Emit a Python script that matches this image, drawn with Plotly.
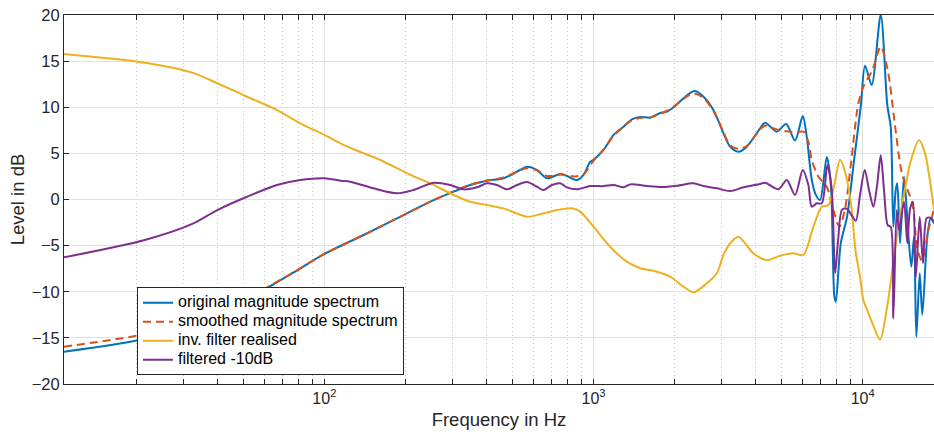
import plotly.graph_objects as go

# ---------------- data (frequency in Hz, level in dB) ----------------
f_orig = [10.77, 21.53, 32.3, 43.07, 56.2, 76.9, 100, 139.9, 186.2, 247.6, 302.1, 348.4, 402, 463.2,
          519.6, 565.7, 616.3, 671.3, 752.3, 796.6, 867.9, 918.3, 972.3, 1000, 1089, 1187, 1293, 1389,
          1491, 1624, 1769, 1873, 2012, 2160, 2370, 2562, 2790, 3039, 3218, 3454, 3712, 4159, 4341,
          4797, 5194, 5610, 5990, 6198, 6471, 6700, 6948, 7358, 7614, 7850, 7950, 8292, 8752, 9292,
          9838, 10207, 10800, 11673, 12350, 12714, 13001, 13270, 13452, 13766, 14247, 14741, 15164,
          15518, 15827, 16293, 16658, 17387, 17899, 18410]
l_orig = [-16.5, -15.1, -13.4, -11.8, -10.2, -7.9, -5.9, -3.85, -2.04, -0.24, 0.85, 1.57, 2.04, 2.30,
          3.02, 3.56, 3.20, 2.30, 2.76, 2.55, 2.11, 2.66, 4.10, 4.3, 5.37, 7.0, 7.89, 8.69,
          8.95, 8.87, 9.38, 9.52, 10.14, 10.97, 11.75, 11.14, 9.70, 7.2, 5.73, 5.18, 5.73, 7.72, 8.33,
          7.35, 8.18, 6.4, 9.05, 6.81, 2.11, 0.5, -0.05, 4.6, 1.75, -10.5, -11.1, -4.75, -1.86, 4.28,
          10.06, 14.5, 12.4, 20.0, 10.2, 7.89, -2.95, 1.03, 1.75, -4.75, 2.47, -3.3, -7.3,
          -4.0, -14.9, -8.0, -12.5, -4.0, -2.0, -2.6]

f_smooth = [10.77, 21.53, 32.3, 43.07, 56.2, 76.9, 100, 139.9, 186.2, 247.6, 302.1, 348.4, 402, 463.2,
            519.6, 565.7, 616.3, 671.3, 752.3, 855, 918.3, 1000, 1089, 1187, 1293, 1389, 1534, 1648,
            1769, 1873, 2012, 2160, 2352, 2562, 2790, 3039, 3218, 3454, 3712, 4159, 4341, 4797, 5194,
            5690, 6021, 6284, 6471, 6848, 7358, 7785, 8193, 8602, 9056, 9639, 10120, 10866, 11673,
            12400, 13166, 14000, 15300, 16000, 16600, 17650, 18410]
l_smooth = [-15.96, -14.6, -13.2, -11.7, -10.1, -7.9, -5.9, -3.85, -2.04, -0.24, 0.9, 1.6, 2.05, 2.4,
            3.0, 3.4, 3.15, 2.55, 2.7, 2.5, 2.75, 4.2, 5.4, 6.9, 7.9, 8.6, 8.9, 8.95,
            9.3, 9.6, 10.2, 10.9, 11.5, 11.0, 9.6, 7.3, 5.9, 5.5, 5.8, 7.6, 8.0, 7.6, 7.4,
            7.3, 7.35, 6.27, 4.28, 2.47, 1.39, -1.14, -2.95, -1.0, 4.0, 10.4, 12.4, 14.0, 16.6,
            14.0, 8.2, 2.8, -0.5, -5.5, -6.6, -3.0, -1.1]

f_inv = [10.78, 21.53, 32.3, 40, 51.6, 66.7, 81.4, 100, 114.7, 130.3, 161.4, 202.9, 247.6, 302.1,
         348.4, 402, 463.2, 565.7, 652.1, 731.4, 831.5, 892.6, 1000, 1153, 1330, 1491, 1671, 1926,
         2160, 2352, 2637, 2872, 3039, 3218, 3454, 3928, 4405, 4934, 5528, 6021, 6560, 7049, 7459,
         7832, 8244, 8602, 9056, 9400, 9779, 10060, 10400, 10900, 11603, 12350, 13384, 13766,
         14579, 14997, 16195, 17050, 17792, 18410]
l_inv = [15.77, 14.83, 13.75, 12.6, 11.14, 9.70, 8.26, 7.0, 6.09, 5.37, 4.28, 2.84, 1.75, 0.49,
         -0.24, -0.60, -0.96, -1.86, -1.50, -1.14, -0.96, -1.32, -2.95, -5.12, -6.74, -7.46, -7.72, -8.37,
         -9.45, -10.06, -9.08, -8.0, -6.0, -4.75, -4.03, -5.84, -6.56, -6.1, -5.84, -6.0, -2.95, -0.78, -0.6,
         1.5, 4.3, 3.0, -0.5, -5.5, -8.4, -10.9, -12.0, -13.5, -15.2, -11.5, -4.0, -1.86,
         2.11, 3.9, 6.45, 5.0, 2.0, -1.1]

f_filt = [10.78, 21.53, 32.3, 40, 51.6, 66.7, 81.4, 100, 114.7, 124.9, 152.4, 186.2, 214.6, 254.7,
          293.8, 329.1, 368.9, 402, 437.8, 476.9, 519.6, 565.7, 616.3, 652.1, 700.8, 752.3, 796.6,
          867.9, 972.3, 1089, 1187, 1293, 1369, 1579, 1800, 2050, 2352, 2562, 2872, 3218, 3606, 4159,
          4341, 4864, 5225, 5610, 5990, 6284, 6471, 6754, 7049, 7396, 7680, 7899, 8103, 8386, 8752,
          9056, 9428, 9779, 10180, 10563, 10959, 11310, 11673, 12007, 12400, 12714, 13001, 13384,
          13649, 14247, 14653, 15000, 15386, 15744, 16293, 16759, 17298, 17944, 18410]
l_filt = [-6.27, -4.39, -2.65, -1.14, 0.30, 1.57, 2.11, 2.30, 2.04, 1.93, 1.21, 0.67, 1.03, 1.82,
          1.57, 1.10, 1.32, 1.75, 1.57, 1.10, 1.57, 1.90, 1.39, 1.03, 1.57, 1.75, 1.32,
          1.10, 1.46, 1.45, 1.57, 1.32, 1.64, 1.46, 1.35, 1.5, 1.75, 1.46, 1.21, 0.92, 1.32, 1.68,
          1.82, 1.10, 2.11, 0.49, 3.20, 1.57, -0.78, -0.41, -0.41, 3.74, 1.0, -8.0, -4.5, -1.1, -1.0,
          -1.6, -2.3, 0.5, 3.20, 1.0, -0.78, 1.5, 4.8, 1.0, -2.8, -2.95, -12.9, -1.14,
          -3.3, -0.24, -4.75, -1.0, -0.24, -8.5, -1.9, -6.9, -2.0, -2.0, -2.5]

names = ["original magnitude spectrum", "smoothed magnitude spectrum",
         "inv. filter realised", "filtered -10dB"]
colors = ["#0072BD", "#D95319", "#EDB120", "#7E2F8E"]

major_x = [100, 1000, 10000]
major_x_text = ["10<sup>2</sup>", "10<sup>3</sup>", "10<sup>4</sup>"]
minor_x = [m * 10 ** e for e in (1, 2, 3) for m in range(2, 10)]

FONT = "Liberation Sans, Arial, Helvetica, sans-serif"
AX = "#262626"

fig = go.Figure()
series = [(f_orig, l_orig, None), (f_smooth, l_smooth, "8px,5px"),
          (f_inv, l_inv, None), (f_filt, l_filt, None)]
for (fx, ly, dash), name, col in zip(series, names, colors):
    fig.add_trace(go.Scatter(
        x=fx, y=ly, mode="lines",
        name='<span style="font-size:16px">' + name + '</span>',
        line=dict(color=col, width=2, shape="spline", smoothing=0.8,
                  dash=dash if dash else "solid"),
    ))

fig.update_layout(
    width=934, height=437,
    margin=dict(l=64, r=0, t=15, b=53),
    paper_bgcolor="white", plot_bgcolor="white",
    font=dict(family=FONT, color=AX, size=16),
    showlegend=True,
    legend=dict(x=0.0839, y=0.262, xanchor="left", yanchor="top",
                bgcolor="white", bordercolor=AX, borderwidth=1,
                font=dict(family=FONT, size=10, color="black"),
                itemwidth=30, entrywidth=235, entrywidthmode="pixels"),
)

fig.update_xaxes(
    type="log", range=[1.0326, 4.2651],
    tickmode="array", tickvals=major_x, ticktext=major_x_text,
    ticks="inside", ticklen=5, tickcolor=AX,
    showline=True, linecolor=AX, linewidth=1, mirror="allticks",
    showgrid=True, gridcolor="#e0e0e0", gridwidth=1, zeroline=False,
    tickfont=dict(family=FONT, size=16, color=AX),
    minor=dict(tickmode="array", tickvals=minor_x, ticks="inside", ticklen=5,
               tickcolor=AX, showgrid=True, gridcolor="#c4c4c4", griddash="1px,3px", gridwidth=1),
    title=dict(text="Frequency in Hz", font=dict(family=FONT, size=18.5, color=AX), standoff=6),
)
fig.update_yaxes(
    range=[-20, 20], tickmode="linear", tick0=-20, dtick=5,
    ticks="inside", ticklen=5, tickcolor=AX,
    showline=True, linecolor=AX, linewidth=1, mirror=False,
    showgrid=True, gridcolor="#e0e0e0", gridwidth=1, zeroline=False,
    tickfont=dict(family=FONT, size=16.5, color=AX),
    title=dict(text="Level in dB", font=dict(family=FONT, size=18.5, color=AX), standoff=2),
)

fig.write_html("out.html")
